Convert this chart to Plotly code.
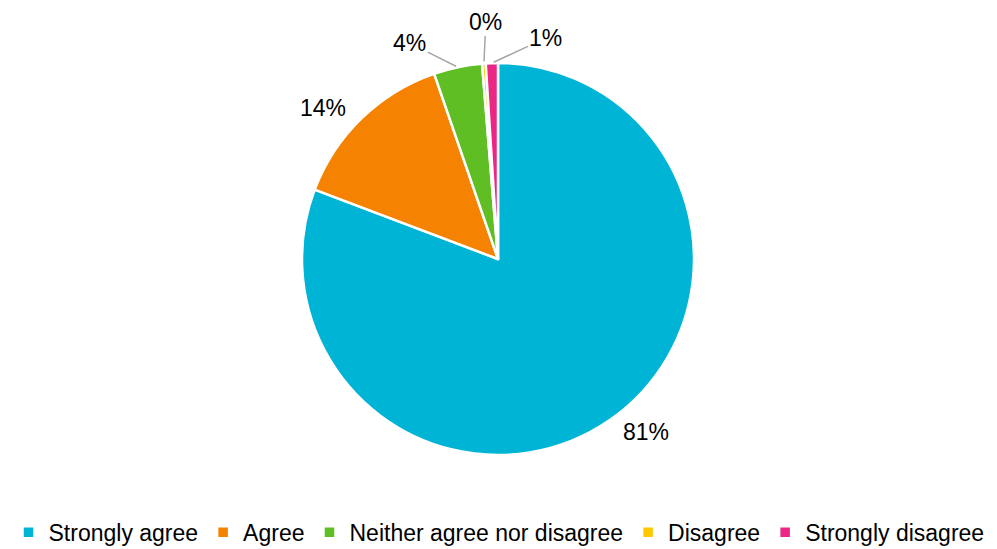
import math
import plotly.graph_objects as go

categories = ["Strongly agree", "Agree", "Neither agree nor disagree", "Disagree", "Strongly disagree"]
values = [81, 14, 4, 0.3, 1]
colors = ["#00B4D6", "#F58200", "#5EBE24", "#FFC800", "#EC2684"]

# label styling: pixel offset of each label from its slice's outer edge, and whether it has a leader line
label_dx = [37, -38, -48, 2, 54]
label_dy = [27, -25, -24, -42, -25]
leader = [False, False, True, True, True]

W, H = 997, 549
cx, cy, r = 490, 251, 196  # pie centre / radius in figure pixels

dom_x = [(cx - r) / W, (cx + r) / W]
dom_y = [(H - cy - r) / H, (H - cy + r) / H]

fig = go.Figure(go.Pie(
    labels=categories,
    values=values,
    sort=False,
    direction="clockwise",
    rotation=0,
    marker=dict(colors=colors, line=dict(color="white", width=2.5)),
    textinfo="none",
    hoverinfo="label+percent",
    domain=dict(x=dom_x, y=dom_y),
))

# percentage labels placed next to each slice (angles derived from the values)
total = sum(values)
cum = 0.0
annotations = []
for i, v in enumerate(values):
    frac = v / total
    mid = (cum + frac / 2) * 2 * math.pi
    cum += frac
    ex = (cx + r * math.sin(mid)) / W
    ey = (H - (cy - r * math.cos(mid))) / H
    txt = f"{round(frac * 100):d}%"
    if leader[i]:
        annotations.append(dict(
            x=ex, y=ey, xref="paper", yref="paper", text=txt,
            showarrow=True, arrowhead=0, arrowwidth=1.5, arrowcolor="#A6A6A6",
            ax=label_dx[i], ay=label_dy[i], standoff=2,
            font=dict(size=23, color="#000000"),
        ))
    else:
        annotations.append(dict(
            x=ex, y=ey, xref="paper", yref="paper", text=txt,
            showarrow=False, xshift=label_dx[i], yshift=-label_dy[i],
            font=dict(size=23, color="#000000"),
        ))

fig.update_layout(
    width=W, height=H,
    margin=dict(l=0, r=0, t=0, b=0, autoexpand=False),
    paper_bgcolor="white",
    plot_bgcolor="white",
    font=dict(family="Liberation Sans, Arial, sans-serif", size=23, color="#000000"),
    annotations=annotations,
    legend=dict(
        orientation="h",
        x=0.4925, xanchor="center",
        y=0.006, yanchor="bottom",
        font=dict(size=23),
        traceorder="normal",
    ),
)

fig.write_html("out.html")
